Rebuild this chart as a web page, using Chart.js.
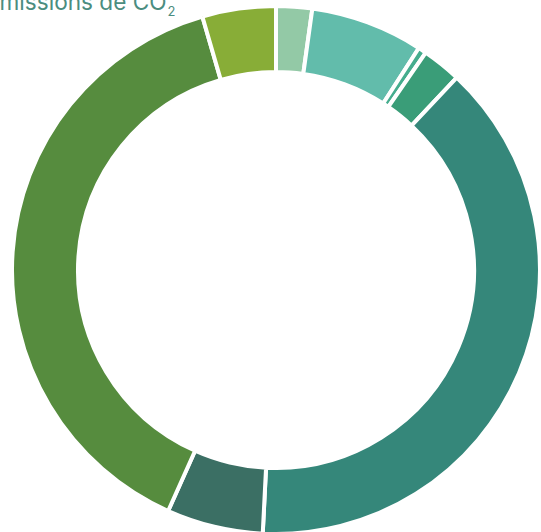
<!DOCTYPE html>
<html lang="fr">
<head>
<meta charset="utf-8">
<script src="https://cdn.jsdelivr.net/npm/chart.js@4"></script>
<style>
  html, body { margin: 0; padding: 0; background: #ffffff; }
  body { width: 541px; height: 532px; position: relative; overflow: hidden; }
  #title {
    position: absolute; left: -14px; top: -9px;
    font-family: Inter, "Noto Sans", sans-serif; font-size: 22.6px; font-weight: 400;
    color: #4b8d80; white-space: nowrap; line-height: 1;
  }
  #title sub { font-size: 13px; vertical-align: -6px; margin-left: 1px; }
  #chart { position: absolute; left: 10px; top: 4px; }
</style>
</head>
<body>
<div id="title">Émissions de CO<sub>2</sub></div>
<canvas id="chart" width="532" height="532"></canvas>
<script>
// Share of emissions per item, in percent, clockwise from the top
const labels = ["Poste 1", "Poste 2", "Poste 3", "Poste 4", "Poste 5", "Poste 6", "Poste 7", "Poste 8"];
const shares = [2.2, 6.9, 0.5, 2.4, 38.8, 5.9, 38.8, 4.5];
const colours = ["#93c9a6", "#62bcab", "#45ad8e", "#3a9d78", "#35877a", "#3b6f64", "#568c3e", "#88ad37"];

new Chart(document.getElementById("chart"), {
  type: "doughnut",
  data: {
    labels: labels,
    datasets: [{
      data: shares,
      backgroundColor: colours,
      borderColor: "#ffffff",
      borderWidth: 4
    }]
  },
  options: {
    responsive: false,
    animation: false,
    events: [],
    cutout: "75%",
    layout: { padding: 0 },
    plugins: {
      legend: { display: false },
      tooltip: { enabled: false },
      title: { display: false }
    }
  }
});
</script>
</body>
</html>
